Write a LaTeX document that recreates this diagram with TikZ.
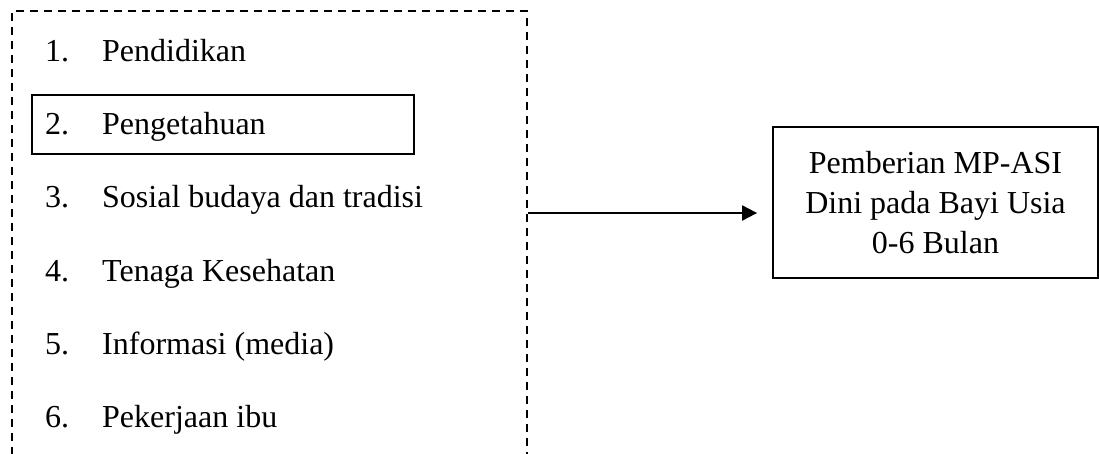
\documentclass[tikz,border=0pt]{standalone}
\usepackage{fontspec}
\setmainfont{Liberation Serif}
\usetikzlibrary{arrows.meta}
\begin{document}
\begin{tikzpicture}[x=1pt,y=-1pt,
  txt/.style={anchor=base west,inner sep=0pt,font=\fontsize{32}{40}\selectfont},
  frame/.style={draw,line width=1.8pt,dash pattern=on 8pt off 6pt,inner sep=0pt},
  solidbox/.style={draw,line width=1.8pt,inner sep=0pt},
  arr/.style={line width=2pt,-{Triangle[length=15pt,width=15pt]}}]
\useasboundingbox (0,0) rectangle (1099,454);
\clip (0,0) rectangle (1099,454);
\node[frame,anchor=north west,minimum width=515pt,minimum height=480pt] (fr) at (11,10) {};
\node[solidbox,anchor=north west,minimum width=382pt,minimum height=59pt] (b2) at (31,94) {};
\foreach \i/\t [count=\k] in {1/Pendidikan,2/Pengetahuan,3/Sosial budaya dan tradisi,4/Tenaga Kesehatan,5/Informasi (media),6/Pekerjaan ibu}{
  \node[txt] (n\k) at (45,{62+73*(\k-1)}) {\i.};
  \node[txt] (t\k) at (102,{62+73*(\k-1)}) {\t};
}
\node[solidbox,minimum width=325pt,minimum height=151pt,align=center,
  font=\fontsize{32}{40}\selectfont] (out) at (935.5,202.5)
  {Pemberian MP-ASI\\Dini pada Bayi Usia\\0-6 Bulan};
\coordinate (a) at (fr.east |- 0,213);
\draw[arr,shorten >=15pt] (a) -- (out.west |- a);
\end{tikzpicture}
\end{document}
